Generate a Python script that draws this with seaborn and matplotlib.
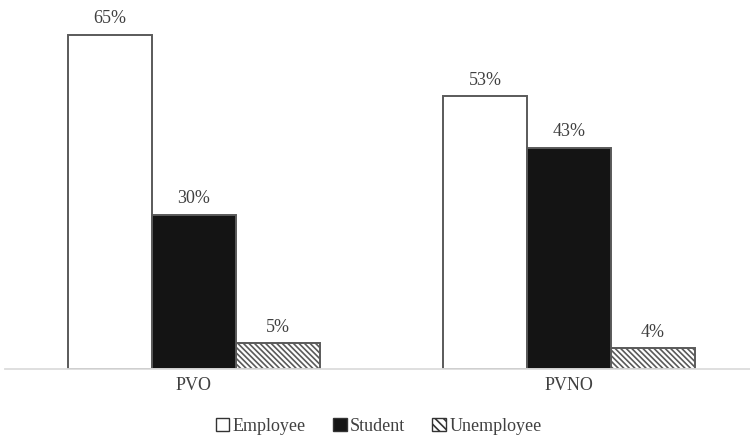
import matplotlib
matplotlib.use("Agg")
import matplotlib.pyplot as plt
from matplotlib.patches import Patch
import seaborn as sns
import pandas as pd

groups = ["PVO", "PVNO"]
statuses = ["Employee", "Student", "Unemployee"]
employee = [65, 53]
student = [30, 43]
unemployee = [5, 4]

rows = []
for g, e, s, u in zip(groups, employee, student, unemployee):
    rows += [(g, "Employee", e), (g, "Student", s), (g, "Unemployee", u)]
df = pd.DataFrame(rows, columns=["group", "status", "value"])

sns.set_theme(style="white")
plt.rcParams["font.family"] = ["Liberation Serif", "DejaVu Serif"]
plt.rcParams["hatch.linewidth"] = 1.2

fig = plt.figure(figsize=(7.5, 4.42), dpi=100)
ax = fig.add_axes([5 / 750, 0.165, 745 / 750, 0.815])

edge = "#5a5a5a"
palette = {"Employee": "white", "Student": "#141414", "Unemployee": "white"}
sns.barplot(data=df, x="group", y="value", hue="status", order=groups,
            hue_order=statuses, palette=palette, width=0.672, gap=0,
            edgecolor=edge, linewidth=1.4, ax=ax, legend=False)

text_col = "#404040"
for container, status in zip(ax.containers, statuses):
    for bar in container:
        if status == "Unemployee":
            bar.set_hatch("\\\\\\\\\\\\")
            if hasattr(bar, "set_hatchcolor"):
                bar.set_hatchcolor("#1a1a1a")
        h = bar.get_height()
        ax.text(bar.get_x() + bar.get_width() / 2, h + 1.5, f"{h:.0f}%",
                ha="center", va="bottom", fontsize=13, color=text_col)

ax.set_ylim(0, 70)
ax.set_xlim(-0.504, 1.4827)
ax.set_yticks([])
ax.set_xlabel("")
ax.set_ylabel("")
for side in ["top", "right", "left"]:
    ax.spines[side].set_visible(False)
ax.spines["bottom"].set_color("#dcdcdc")
ax.spines["bottom"].set_linewidth(1.3)
ax.tick_params(axis="x", length=0, labelsize=13, colors=text_col, pad=6)

handles = [
    Patch(facecolor="white", edgecolor="#333333", label="Employee"),
    Patch(facecolor="#141414", edgecolor="#333333", label="Student"),
    Patch(facecolor="white", edgecolor="#333333", hatch="\\\\\\\\", label="Unemployee"),
]
fig.legend(handles=handles, loc="center", bbox_to_anchor=(0.505, 0.035), ncol=3,
           frameon=False, fontsize=13, handlelength=0.75, handleheight=0.75,
           handletextpad=0.2, columnspacing=1.5, labelcolor=text_col)

fig.savefig("out.png", dpi=100, facecolor="white")
